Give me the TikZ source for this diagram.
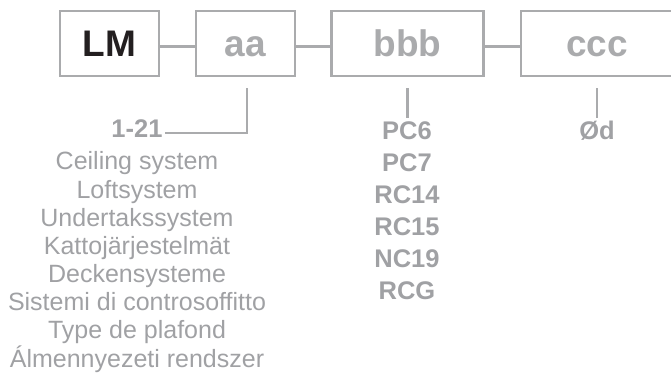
\documentclass[tikz,border=0pt]{standalone}
\usepackage{fontspec}
\setmainfont{Liberation Sans}
\definecolor{lgray}{RGB}{170,171,173}
\definecolor{tgray}{RGB}{160,161,164}
\definecolor{dark}{RGB}{35,31,32}
\begin{document}
\begin{tikzpicture}[x=1pt,y=-1pt,
  box/.style={draw=lgray, line width=2.2pt, inner sep=0pt, minimum height=65pt,
    text height=26.5pt, text depth=0pt, font=\fontsize{37}{37}\selectfont\bfseries, text=lgray},
  conn/.style={draw=lgray, line width=2.2pt},
  code/.style={anchor=base, font=\fontsize{25.5}{26}\selectfont\bfseries, text=tgray, inner sep=0pt},
  desc/.style={anchor=base, font=\fontsize{25}{26}\selectfont, text=tgray, inner sep=0pt}]
\useasboundingbox (0,0) rectangle (671,374);
% boxes
\node[box, text=dark, minimum width=99pt] (LM) at (109.5,43.5) {LM};
\node[box, minimum width=99pt] (aa) at (245.5,43.5) {aa};
\node[box, minimum width=152pt] (bbb) at (407.5,43.5) {bbb};
\node[box, minimum width=152pt] (ccc) at (597,43.5) {ccc};
\draw[conn] ([yshift=-3pt]LM.east) -- ([yshift=-3pt]aa.west);
\draw[conn] ([yshift=-3pt]aa.east) -- ([yshift=-3pt]bbb.west);
\draw[conn] ([yshift=-3pt]bbb.east) -- ([yshift=-3pt]ccc.west);
% aa column
\node[code] (n121) at (137,138) {1-21};
\draw[conn] ([xshift=1.5pt,yshift=-11pt]aa.south) |- ([xshift=2pt,yshift=-4pt]n121.east);
\node[desc] (d1) at (137,170) {Ceiling system};
\node[desc] (d2) at (137,198.2) {Loftsystem};
\node[desc] (d3) at (137,226.3) {Undertakssystem};
\node[desc] (d4) at (137,254.5) {Kattojärjestelmät};
\node[desc] (d5) at (137,282.6) {Deckensysteme};
\node[desc] (d6) at (137,310.8) {Sistemi di controsoffitto};
\node[desc] (d7) at (137,338.9) {Type de plafond};
\node[desc] (d8) at (137,367) {Álmennyezeti rendszer};
% bbb column
\draw[conn] ([yshift=-11pt]bbb.south) -- ++(0,30);
\node[code] (b1) at (407,140) {PC6};
\node[code] (b2) at (407,171.8) {PC7};
\node[code] (b3) at (407,203.6) {RC14};
\node[code] (b4) at (407,235.4) {RC15};
\node[code] (b5) at (407,267.2) {NC19};
\node[code] (b6) at (407,299) {RCG};
% ccc column
\draw[conn] ([yshift=-11pt]ccc.south) -- ++(0,30);
\node[code] (c1) at (597,140) {Ød};
\end{tikzpicture}
\end{document}
